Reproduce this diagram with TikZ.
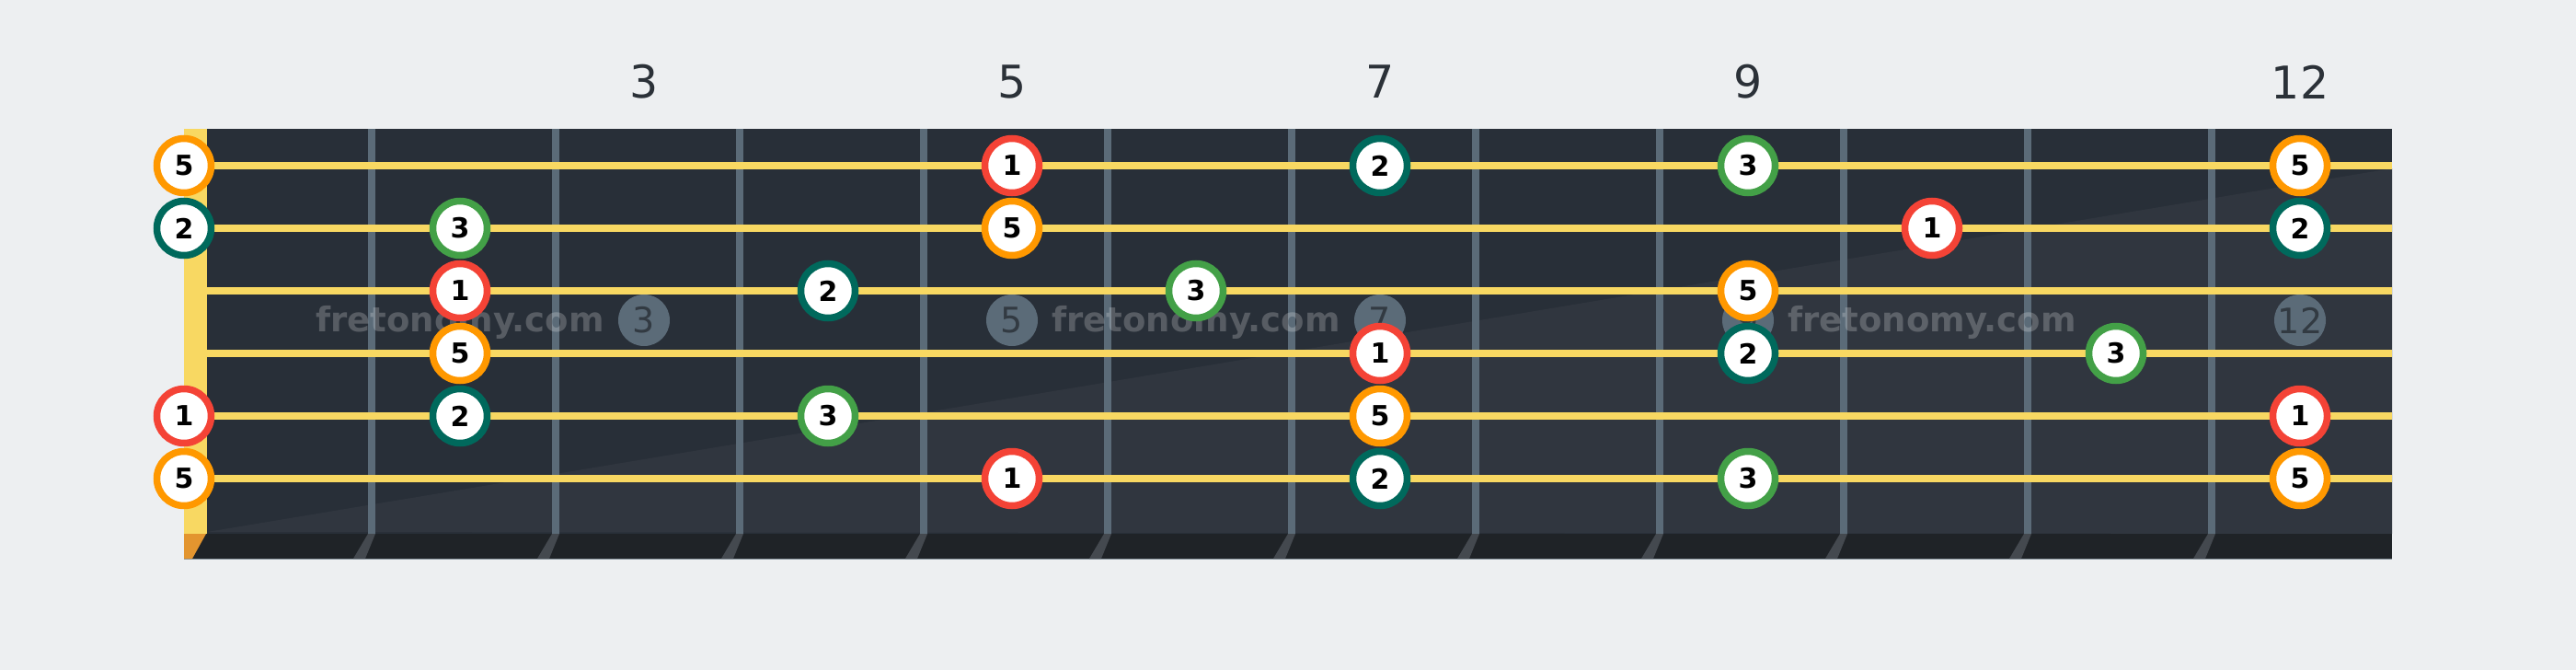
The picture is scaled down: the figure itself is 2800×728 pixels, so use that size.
\documentclass[tikz,border=0pt]{standalone}
\usepackage{fontspec}
\setmainfont{DejaVu Sans}
\definecolor{bg}{HTML}{EDEFF1}
\definecolor{board}{HTML}{282F38}
\definecolor{boardlow}{HTML}{30363F}
\definecolor{fretc}{HTML}{5B6B78}
\definecolor{strc}{HTML}{F8D862}
\definecolor{stripc}{HTML}{1F2327}
\definecolor{nutlow}{HTML}{E3952F}
\definecolor{fretlow}{HTML}{44494F}
\definecolor{lblc}{HTML}{2B3138}
\definecolor{cred}{HTML}{F44336}
\definecolor{corange}{HTML}{FF9800}
\definecolor{cteal}{HTML}{00695C}
\definecolor{cgreen}{HTML}{43A047}
\begin{document}
\begin{tikzpicture}[x=1pt,y=-1pt,
  note/.style={circle,draw,fill=white,line width=7.5pt,minimum size=59pt,inner sep=0pt,
    font=\fontsize{30}{30}\selectfont\bfseries,text=black},
  d1/.style={draw=cred}, d2/.style={draw=cteal}, d3/.style={draw=cgreen}, d5/.style={draw=corange},
  fretlbl/.style={font=\fontsize{49}{49}\selectfont,text=lblc,inner sep=0pt},
  badge/.style={circle,fill=fretc,minimum size=56pt,inner sep=0pt,
    font=\fontsize{38}{38}\selectfont,text=lblc!85!fretc},
  wmark/.style={font=\fontsize{37}{37}\selectfont\bfseries,text=white,text opacity=0.22,inner sep=0pt},
  wire/.style={draw=fretc,line width=8pt},
  stringline/.style={draw=strc,line width=8pt}]
\useasboundingbox[fill=bg] (0,0) rectangle (2800,728);
% board
\fill[board] (225,140) rectangle (2600,580);
\fill[boardlow] (225,578) -- (2600,183) -- (2600,580) -- cycle;
% bottom strip
\fill[stripc] (200,580) rectangle (2600,607);
\draw[fretc!70!bg,line width=1.5pt] (200,607.5) -- (2600,607.5);
\foreach \k in {1,...,11}{
  \pgfmathsetmacro{\xo}{200+200*\k}
  \fill[fretlow] (\xo,580) -- (\xo+8,580) -- (\xo-3,607) -- (\xo-16,607) -- cycle;
}
% nut
\fill[strc] (200,140) rectangle (225,580);
\fill[nutlow] (200,580) -- (224,580) -- (209,607) -- (200,607) -- cycle;
% fret wires
\foreach \k in {1,...,11}{
  \pgfmathsetmacro{\xw}{204+200*\k}
  \draw[wire] (\xw,140) -- (\xw,580);
}
% strings
\foreach \s in {1,...,6}{
  \pgfmathsetmacro{\ys}{180+68*(\s-1)}
  \draw[stringline] (225,\ys) -- (2600,\ys);
}
% fret numbers
\node[fretlbl] (f3) at (700,89) {3};
\node[fretlbl] (f5) at (1100,89) {5};
\node[fretlbl] (f7) at (1500,89) {7};
\node[fretlbl] (f9) at (1900,89) {9};
\node[fretlbl] (f12) at (2500,89) {12};
% watermark
\node[badge] (b3) at (700,348) {3};
\node[badge] (b5) at (1100,348) {5};
\node[badge] (b7) at (1500,348) {7};
\node[badge] (b9) at (1900,348) {9};
\node[badge] (b12) at (2500,348) {12};
\node[wmark] (w1) at (500,350) {fretonomy.com};
\node[wmark] (w2) at (1300,350) {fretonomy.com};
\node[wmark] (w3) at (2100,350) {fretonomy.com};
% notes: string/fret/degree
\foreach \s/\f/\d in {1/0/5,1/5/1,1/7/2,1/9/3,1/12/5,
  2/0/2,2/2/3,2/5/5,2/10/1,2/12/2,
  3/2/1,3/4/2,3/6/3,3/9/5,
  4/2/5,4/7/1,4/9/2,4/11/3,
  5/0/1,5/2/2,5/4/3,5/7/5,5/12/1,
  6/0/5,6/5/1,6/7/2,6/9/3,6/12/5}{
  \pgfmathsetmacro{\xn}{\f==0 ? 200 : 100+200*\f}
  \pgfmathsetmacro{\yn}{180+68*(\s-1)}
  \node[note,d\d] (n\s-\f) at (\xn,\yn) {\d};
}
\end{tikzpicture}
\end{document}
